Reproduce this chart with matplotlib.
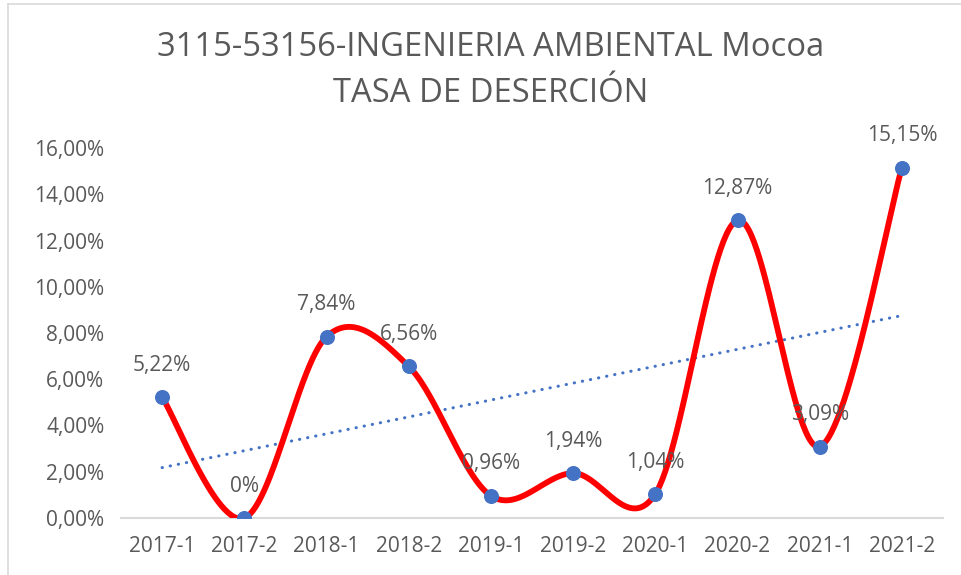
import numpy as np
import matplotlib
matplotlib.use("Agg")
import matplotlib.pyplot as plt
from matplotlib.lines import Line2D

categories = ["2017-1", "2017-2", "2018-1", "2018-2", "2019-1",
              "2019-2", "2020-1", "2020-2", "2021-1", "2021-2"]
values = [5.22, 0.0, 7.84, 6.56, 0.96, 1.94, 1.04, 12.87, 3.09, 15.15]
labels = ["5,22%", "0%", "7,84%", "6,56%", "0,96%", "1,94%", "1,04%",
          "12,87%", "3,09%", "15,15%"]
title_lines = ["3115-53156-INGENIERIA AMBIENTAL Mocoa", "TASA DE DESERCIÓN"]
yticks = [0, 2, 4, 6, 8, 10, 12, 14, 16]

plt.rcParams['font.family'] = ['Open Sans', 'DejaVu Sans']
TXT = "#595959"
W, H = 961, 575
fig = plt.figure(figsize=(W / 100, H / 100), dpi=100)
ax = fig.add_axes([121 / W, 57 / H, (943 - 121) / W, (518 - 148) / H])

x = np.arange(len(values), dtype=float)
y = np.array(values, dtype=float)

# Excel-like smoothed line (Catmull-Rom as cubic Bezier)
def smooth(xp, yp, n=60):
    P = np.column_stack([xp, yp])
    m = len(P)
    out = []
    for i in range(m - 1):
        p0 = P[max(i - 1, 0)]
        p1 = P[i]
        p2 = P[i + 1]
        p3 = P[min(i + 2, m - 1)]
        c1 = p1 + (p2 - p0) / 6.0
        c2 = p2 - (p3 - p1) / 6.0
        t = np.linspace(0, 1, n)[:, None]
        seg = ((1 - t) ** 3) * p1 + 3 * ((1 - t) ** 2) * t * c1 + 3 * (1 - t) * t ** 2 * c2 + t ** 3 * p2
        out.append(seg if i == 0 else seg[1:])
    return np.vstack(out)

curve = smooth(x, y)
ax.plot(curve[:, 0], curve[:, 1], color="#FF0000", lw=4.2, solid_capstyle="round", zorder=3)

# linear trendline
k, b = np.polyfit(x, y, 1)
ax.plot(x, k * x + b, color="#4472C4", lw=2.2, linestyle=(0, (0.1, 2.6)),
        dash_capstyle="round", zorder=2)

ax.plot(x, y, linestyle="none", marker="o", markersize=9.8,
        markerfacecolor="#4472C4", markeredgecolor="#4472C4", zorder=4)

for xi, yi, lab in zip(x, y, labels):
    ax.annotate(lab, (xi, yi), xytext=(0, 23), textcoords="offset points",
                ha="center", va="center", fontsize=15, color=TXT, zorder=5)

ax.set_xlim(-0.5, len(values) - 0.5)
ax.set_ylim(0, 16)
ax.set_xticks(x)
ax.set_xticklabels(categories)
ax.set_yticks(yticks)
ax.set_yticklabels([f"{v:.2f}%".replace(".", ",") for v in yticks])
ax.tick_params(axis="both", length=0, labelsize=15, labelcolor=TXT)
ax.tick_params(axis="x", pad=13)
ax.tick_params(axis="y", pad=12)
for s in ["top", "right", "left"]:
    ax.spines[s].set_visible(False)
ax.spines["bottom"].set_color("#D9D9D9")
ax.spines["bottom"].set_linewidth(1.5)
ax.spines["bottom"].set_zorder(1)
ax.patch.set_alpha(0)

fig.text(491 / W, 1 - 48 / H, title_lines[0], ha="center", va="center", fontsize=23.6, color=TXT)
fig.text(491 / W, 1 - 94 / H, title_lines[1], ha="center", va="center", fontsize=23.6, color=TXT)

# chart border (left and top visible)
fig.add_artist(Line2D([8 / W, 8 / W], [0, 1 - 4 / H], transform=fig.transFigure, color="#D9D9D9", lw=1.2))
fig.add_artist(Line2D([8 / W, 1], [1 - 4 / H, 1 - 4 / H], transform=fig.transFigure, color="#D9D9D9", lw=1.2))

fig.savefig("out.png", dpi=100)
